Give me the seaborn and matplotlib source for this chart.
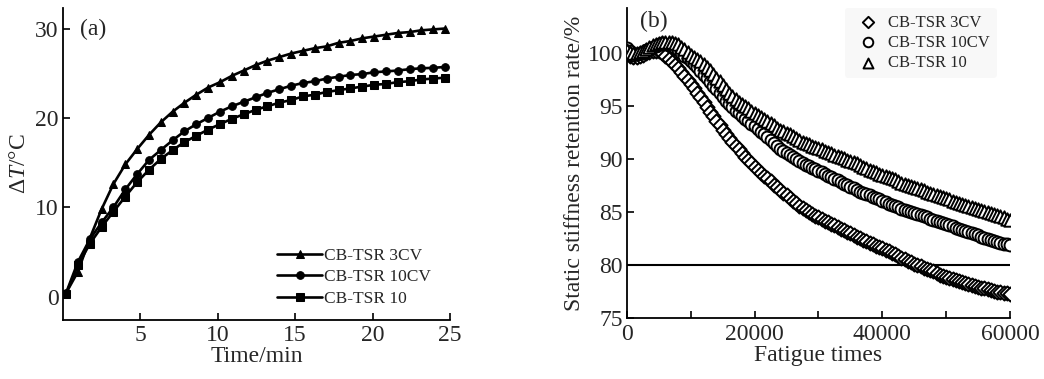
import numpy as np
import pandas as pd
import matplotlib
matplotlib.use("Agg")
import matplotlib.pyplot as plt
import seaborn as sns

# ---------------- data: panel (a) ----------------
time_min = [0.2, 0.97, 1.73, 2.5, 3.26, 4.03, 4.79, 5.56, 6.32, 7.09, 7.85,
            8.62, 9.38, 10.15, 10.91, 11.68, 12.44, 13.21, 13.97, 14.74, 15.5,
            16.27, 17.03, 17.8, 18.56, 19.33, 20.09, 20.86, 21.62, 22.39,
            23.15, 23.92, 24.68]
dT_3CV = [0.4, 2.8, 6.5, 9.8, 12.6, 14.8, 16.5, 18.1, 19.5, 20.7, 21.7, 22.6,
          23.4, 24.0, 24.7, 25.3, 25.9, 26.4, 26.8, 27.2, 27.5, 27.8, 28.0,
          28.4, 28.6, 28.9, 29.1, 29.3, 29.5, 29.6, 29.8, 29.9, 30.0]
dT_10CV = [0.4, 3.9, 6.4, 8.3, 10.0, 12.0, 13.7, 15.3, 16.4, 17.5, 18.5, 19.3,
           20.0, 20.7, 21.3, 21.8, 22.3, 22.8, 23.2, 23.6, 23.9, 24.1, 24.4,
           24.6, 24.8, 24.9, 25.1, 25.2, 25.3, 25.45, 25.55, 25.6, 25.7]
dT_10 = [0.3, 3.5, 5.9, 7.8, 9.5, 11.2, 12.8, 14.2, 15.4, 16.4, 17.3, 18.0,
         18.7, 19.3, 19.9, 20.4, 20.9, 21.3, 21.7, 22.0, 22.4, 22.6, 22.9,
         23.1, 23.3, 23.5, 23.7, 23.8, 24.0, 24.1, 24.3, 24.4, 24.5]

# ---------------- data: panel (b) ----------------
fatigue = list(range(0, 60001, 500))
ssr_3CV = [100.0, 99.8, 99.7, 99.7, 99.8, 99.9, 100.0, 100.1, 100.2, 100.25,
           100.2, 100.0, 99.8, 99.5, 99.2, 98.9, 98.6, 98.25, 97.9, 97.5,
           97.1, 96.7, 96.3, 95.85, 95.4, 94.95, 94.5, 94.05, 93.6, 93.2,
           92.8, 92.4, 92.0, 91.65, 91.3, 90.95, 90.6, 90.25, 89.9, 89.6,
           89.3, 89.0, 88.7, 88.45, 88.2, 87.9, 87.6, 87.35, 87.1, 86.85,
           86.6, 86.35, 86.1, 85.85, 85.6, 85.4, 85.2, 85.0, 84.8, 84.65,
           84.5, 84.35, 84.2, 84.05, 83.9, 83.75, 83.6, 83.45, 83.3, 83.15,
           83.0, 82.85, 82.7, 82.55, 82.4, 82.25, 82.1, 81.95, 81.8, 81.7,
           81.6, 81.45, 81.3, 81.15, 81.0, 80.85, 80.7, 80.55, 80.4, 80.25,
           80.1, 80.0, 79.9, 79.75, 79.6, 79.5, 79.4, 79.25, 79.1, 79.0,
           78.9, 78.8, 78.7, 78.6, 78.5, 78.4, 78.3, 78.2, 78.1, 78.0,
           77.9, 77.85, 77.8, 77.7, 77.6, 77.55, 77.5, 77.45, 77.4, 77.35,
           77.3]
ssr_10CV = [100.5, 100.2, 99.9, 99.95, 100.0, 100.15, 100.3, 100.45, 100.6, 100.75,
            100.9, 100.95, 100.9, 100.8, 100.7, 100.5, 100.3, 100.05, 99.8, 99.55,
            99.3, 99.0, 98.7, 98.35, 98.0, 97.65, 97.3, 96.95, 96.6, 96.25,
            95.9, 95.55, 95.2, 94.9, 94.6, 94.35, 94.1, 93.85, 93.6, 93.35,
            93.1, 92.85, 92.6, 92.35, 92.1, 91.8, 91.5, 91.25, 91.0, 90.8,
            90.6, 90.4, 90.2, 90.0, 89.8, 89.65, 89.5, 89.35, 89.2, 89.05,
            88.9, 88.75, 88.6, 88.45, 88.3, 88.15, 88.0, 87.85, 87.7, 87.55,
            87.4, 87.25, 87.1, 86.95, 86.8, 86.7, 86.6, 86.45, 86.3, 86.2,
            86.1, 85.95, 85.8, 85.7, 85.6, 85.45, 85.3, 85.2, 85.1, 85.0,
            84.9, 84.8, 84.7, 84.6, 84.5, 84.4, 84.3, 84.2, 84.1, 84.0,
            83.9, 83.8, 83.7, 83.55, 83.4, 83.3, 83.2, 83.1, 83.0, 82.9,
            82.8, 82.7, 82.6, 82.5, 82.4, 82.3, 82.2, 82.1, 82.0, 81.95,
            81.9]
ssr_10 = [100.3, 100.15, 100.0, 100.05, 100.1, 100.25, 100.4, 100.6, 100.8, 100.9,
          101.0, 101.05, 101.1, 101.1, 101.1, 101.0, 100.9, 100.65, 100.4, 100.15,
          99.9, 99.7, 99.5, 99.25, 99.0, 98.7, 98.4, 98.05, 97.7, 97.35,
          97.0, 96.65, 96.3, 96.0, 95.7, 95.45, 95.2, 95.0, 94.8, 94.6,
          94.4, 94.2, 94.0, 93.8, 93.6, 93.4, 93.2, 93.0, 92.8, 92.65,
          92.5, 92.35, 92.2, 92.0, 91.8, 91.65, 91.5, 91.4, 91.3, 91.2,
          91.1, 90.95, 90.8, 90.7, 90.6, 90.45, 90.3, 90.2, 90.1, 89.95,
          89.8, 89.7, 89.6, 89.45, 89.3, 89.15, 89.0, 88.9, 88.8, 88.65,
          88.5, 88.4, 88.3, 88.2, 88.1, 87.95, 87.8, 87.7, 87.6, 87.5,
          87.4, 87.3, 87.2, 87.05, 86.9, 86.8, 86.7, 86.6, 86.5, 86.4,
          86.3, 86.2, 86.1, 86.0, 85.9, 85.8, 85.7, 85.6, 85.5, 85.4,
          85.3, 85.2, 85.1, 85.0, 84.9, 84.8, 84.7, 84.6, 84.5, 84.4,
          84.3]
threshold = [80]

labels = ["CB-TSR 3CV", "CB-TSR 10CV", "CB-TSR 10"]
x_ticks_a = [5, 10, 15, 20, 25]
y_ticks_a = [0, 10, 20, 30]
x_ticks_b = [0, 20000, 40000, 60000]
x_minor_b = [10000, 30000, 50000]
y_ticks_b = [75, 80, 85, 90, 95, 100]

# ---------------- style ----------------
sns.set_theme(style="ticks")
plt.rcParams["font.family"] = ["Liberation Serif", "DejaVu Serif"]
plt.rcParams["mathtext.fontset"] = "custom"
plt.rcParams["mathtext.rm"] = "Liberation Serif"
plt.rcParams["mathtext.it"] = "Liberation Serif:italic"
FS = 17

fig = plt.figure(figsize=(10.44, 3.79), dpi=100)
axA = fig.add_axes([0.0603, 0.156, 0.3707, 0.823])
axB = fig.add_axes([0.6006, 0.161, 0.3668, 0.818])

# ---------------- panel (a) ----------------
for vals, mk, lab in zip([dT_3CV, dT_10CV, dT_10], ["^", "o", "s"], labels):
    sns.lineplot(x=time_min, y=vals, ax=axA, color="black", lw=1.9,
                 marker=mk, markersize=5.5, markeredgecolor="black",
                 label=lab, sort=False)
axA.set_xlim(0, 25)
axA.set_ylim(-2.6, 32.3)
axA.set_xticks(x_ticks_a)
axA.set_yticks(y_ticks_a)
axA.set_xlabel("Time/min", fontsize=FS, labelpad=0)
axA.set_ylabel(r"Δ$\mathit{T}$/°C", fontsize=FS, labelpad=4)
axA.text(0.045, 0.93, "(a)", transform=axA.transAxes, fontsize=FS, va="center")
axA.legend(loc="lower left", bbox_to_anchor=(0.535, 0.02), frameon=False,
           fontsize=12.5, handlelength=2.6, handletextpad=0.1, labelspacing=0.3,
           borderaxespad=0)

# ---------------- panel (b) ----------------
specs = [(ssr_3CV, "D", 52), (ssr_10CV, "o", 74), (ssr_10, "^", 80)]
for (vals, mk, s), lab in zip(specs, labels):
    sns.scatterplot(x=fatigue, y=vals, ax=axB, marker=mk, s=s,
                    facecolor="white", edgecolor="black", linewidth=1.4,
                    label=lab, zorder=3)
for t in threshold:
    axB.axhline(t, color="black", lw=1.5, zorder=2)
axB.set_xlim(0, 60000)
axB.set_ylim(75, 104.3)
axB.set_xticks(x_ticks_b)
axB.set_xticks(x_minor_b, minor=True)
axB.set_yticks(y_ticks_b)
axB.set_xlabel("Fatigue times", fontsize=FS, labelpad=0)
axB.set_ylabel("Static stiffness retention rate/%", fontsize=FS, labelpad=2)
axB.text(0.035, 0.955, "(b)", transform=axB.transAxes, fontsize=FS, va="center")
axB.legend(loc="upper right", bbox_to_anchor=(0.965, 1.0), frameon=True,
           facecolor="#f8f8f8", edgecolor="none", framealpha=1,
           fontsize=12, handletextpad=0.2, labelspacing=0.25,
           borderaxespad=0, borderpad=0.4, markerscale=0.8)

for ax in (axA, axB):
    sns.despine(ax=ax)
    for sp in ("left", "bottom"):
        ax.spines[sp].set_linewidth(1.3)
        ax.spines[sp].set_color("black")
    ax.tick_params(axis="both", which="both", direction="in", length=5,
                   width=1.2, color="black", labelsize=FS, pad=3)
    ax.tick_params(axis="x", pad=4)
    ax.set_facecolor("white")

fig.savefig("out.png", dpi=100, facecolor="white")
